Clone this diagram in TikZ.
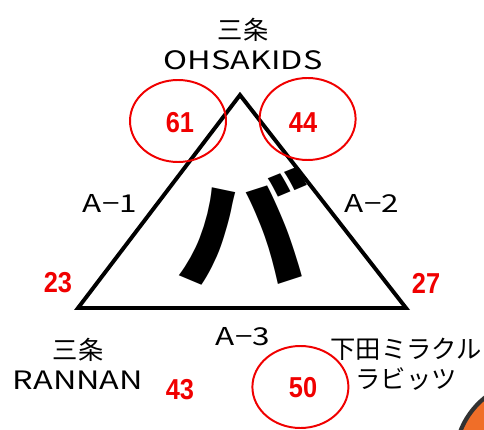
\documentclass[tikz,border=0pt]{standalone}
\usepackage{fontspec}
\setmainfont{Noto Sans CJK JP}
\newfontfamily\latinfont[FakeStretch=1.28]{Noto Sans CJK JP}
\newfontfamily\numfont[FakeStretch=0.88]{Liberation Sans}
\usetikzlibrary{shapes.geometric}
\definecolor{scorered}{RGB}{240,0,0}
\definecolor{ballorange}{RGB}{240,110,40}
\definecolor{balledge}{RGB}{50,50,50}
\begin{document}
\begin{tikzpicture}[
    score/.style={text=scorered, font=\numfont\bfseries\fontsize{20.5}{20}\selectfont, inner sep=0pt},
    ring/.style={ellipse, draw=scorered, line width=1.4pt, minimum width=2.4cm, minimum height=2.05cm, inner sep=0pt},
    team/.style={font=\fontsize{18}{21}\selectfont, align=center, inner sep=0pt},
    match/.style={font=\latinfont\fontsize{17.5}{18}\selectfont, inner sep=0pt}
  ]
    \useasboundingbox (0,0) rectangle (12.1,-10.75);

    % Draw the ball in the corner.
    \begin{scope}
      \clip (0,0) rectangle (12.1,-10.75);
      \node[circle, draw=balledge, fill=ballorange, line width=3pt, minimum size=4cm] (ball) at (13.375,-11.5) {};
    \end{scope}

    % Draw the triangle.
    \coordinate (top) at (6.0,-2.375);
    \coordinate (left) at (1.95,-7.7);
    \coordinate (right) at (10.15,-7.7);
    \draw[line width=2.8pt, line join=miter] (top) -- (left) -- (right) -- cycle;

    % Draw the big letter.
    \node[font=\bfseries\fontsize{94}{94}\selectfont, inner sep=0pt] (ba) at (6.075,-5.65) {バ};

    % Draw the teams.
    \node[team] (t_1) at (6.075,-1.1) {三条\\{\latinfont OHSAKIDS}};
    \node[team] (t_2) at (1.95,-9.1) {三条\\{\latinfont RANNAN}};
    \node[team] (t_3) at (10.15,-9.1) {下田ミラクル\\ラビッツ};

    % Draw the matches.
    \node[match] (a_1) at (2.75,-5.075) {A−1};
    \node[match] (a_2) at (9.3,-5.075) {A−2};
    \node[match] (a_3) at (6.075,-8.425) {A−3};

    % Draw the rings.
    \node[ring] (r_1) at (4.45,-3.025) {};
    \node[ring] (r_2) at (7.69,-2.975) {};
    \node[ring] (r_3) at (7.51,-9.675) {};

    % Draw the scores.
    \node[score] (s_1) at (4.5,-3.075) {61};
    \node[score] (s_2) at (7.575,-3.075) {44};
    \node[score] (s_3) at (7.575,-9.7) {50};
    \node[score] (s_4) at (1.45,-7.075) {23};
    \node[score] (s_5) at (10.65,-7.075) {27};
    \node[score] (s_6) at (4.5,-9.75) {43};
  \end{tikzpicture}
\end{document}
